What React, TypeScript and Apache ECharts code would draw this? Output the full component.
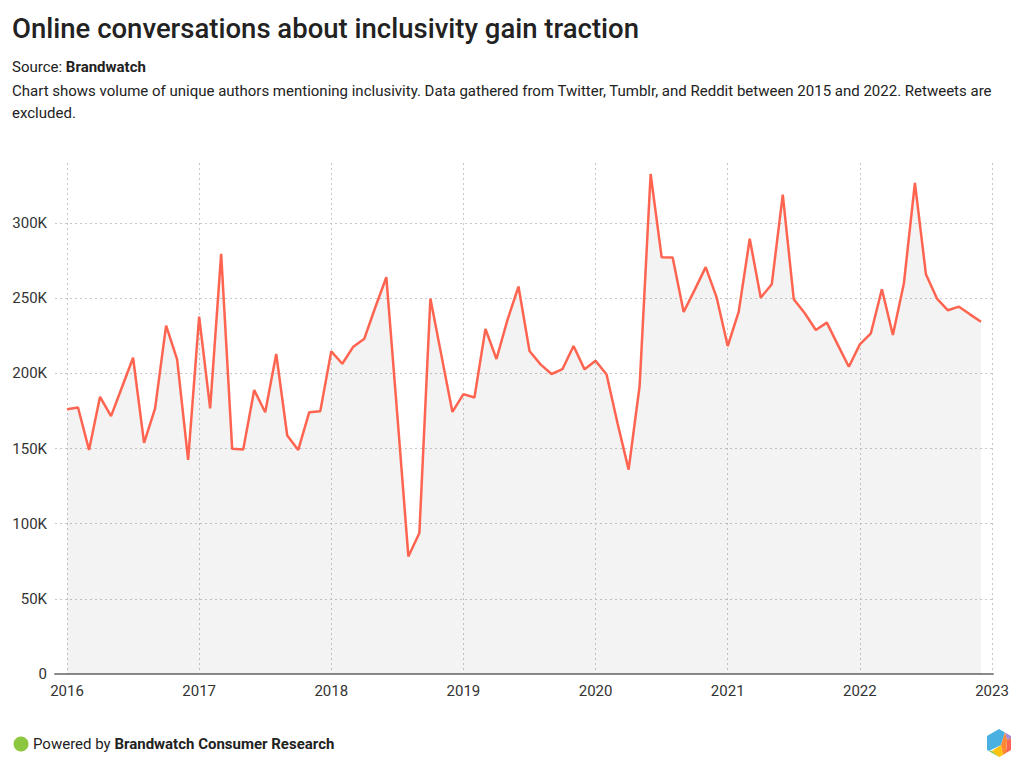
import React, { useEffect, useRef } from "react";
import * as echarts from "echarts";

// Monthly unique authors (thousands), Jan 2016 .. Dec 2022
const startYear = 2016;
const yearLabels = ["2016", "2017", "2018", "2019", "2020", "2021", "2022", "2023"];
const v2016 = [176.2, 177.3, 149.1, 184.4, 171.6, 191, 210.4, 153.8, 176.7, 231.8, 209.3, 142.4];
const v2017 = [237.8, 176.7, 279.6, 149.8, 149.3, 188.9, 174.2, 212.9, 158.7, 149.1, 174.2, 174.9];
const v2018 = [214.7, 206.4, 217.8, 223.1, 244, 264.0, 172, 78.2, 93.8, 249.8, 212, 174.4];
const v2019 = [186.2, 184, 229.6, 209.6, 235.6, 257.8, 214.9, 206, 199.6, 202.9, 218.2, 202.7];
const v2020 = [208.4, 199.3, 166.7, 136, 191.6, 332.7, 277.3, 277.1, 240.9, 255.6, 270.7, 250.4];
const v2021 = [218.2, 241.1, 289.6, 250.4, 259.3, 318.9, 249.3, 240, 228.9, 233.8, 219, 204.4];
const v2022 = [219.3, 226.7, 256, 225.6, 260, 326.7, 266, 249.8, 242, 244.4, 239.3, 234.4];
const values = [...v2016, ...v2017, ...v2018, ...v2019, ...v2020, ...v2021, ...v2022];
const yTicks = [0, 50000, 100000, 150000, 200000, 250000, 300000];

const FONT = "Roboto, 'Noto Sans', sans-serif";

export default function App() {
  const ref = useRef<HTMLDivElement>(null);
  useEffect(() => {
    if (!ref.current) return;
    const chart = echarts.init(ref.current, undefined, { renderer: "svg" });
    const data = values.map((v, i) => [i, Math.round(v * 1000)]);
    const yMax = 340000;
    chart.setOption({
      animation: false,
      textStyle: { fontFamily: FONT },
      grid: [
        { left: 67, right: 32, top: 163, bottom: 100 },
        { left: 55, right: 31, top: 163, bottom: 100 },
      ],
      xAxis: [
        {
          type: "value",
          gridIndex: 0,
          min: 0,
          max: 84,
          interval: 12,
          axisLine: { show: false },
          axisTick: { show: false },
          axisLabel: {
            color: "#333",
            fontSize: 15,
            fontFamily: FONT,
            margin: 9,
            formatter: (v: number) => yearLabels[Math.round(v / 12)] ?? String(startYear + v / 12),
          },
          splitLine: { show: true, lineStyle: { color: "#c8c8c8", type: [2, 3], width: 1 } },
        },
        {
          type: "value",
          gridIndex: 1,
          min: 0,
          max: 1,
          axisLine: { show: true, lineStyle: { color: "#8a8a8a", width: 2 } },
          axisTick: { show: false },
          axisLabel: { show: false },
          splitLine: { show: false },
        },
      ],
      yAxis: [
        {
          type: "value",
          gridIndex: 0,
          min: 0,
          max: yMax,
          show: false,
          splitLine: { show: false },
        },
        {
          type: "value",
          gridIndex: 1,
          min: 0,
          max: yMax,
          interval: 50000,
          axisLine: { show: false },
          axisTick: { show: false },
          axisLabel: {
            color: "#333",
            fontSize: 15,
            fontFamily: FONT,
            margin: 8,
            showMaxLabel: false,
            formatter: (v: number) => (yTicks.includes(v) ? (v === 0 ? "0" : v / 1000 + "K") : ""),
          },
          splitLine: {
            show: true,
            showMaxLine: false,
            lineStyle: { color: "#c8c8c8", type: [2, 3], width: 1 },
          },
        },
      ],
      series: [
        {
          type: "line",
          xAxisIndex: 0,
          yAxisIndex: 0,
          data,
          symbol: "none",
          lineStyle: { color: "#ff6450", width: 2.5 },
          itemStyle: { color: "#ff6450" },
          areaStyle: { color: "rgba(0,0,0,0.065)" },
          z: 3,
        },
      ],
      graphic: [
        {
          type: "text",
          left: 12,
          top: 14,
          style: {
            text: "Online conversations about inclusivity gain traction",
            fontSize: 27.5,
            fontWeight: 500,
            fill: "#222",
            fontFamily: FONT,
          },
        },
        {
          type: "text",
          left: 12,
          top: 59.5,
          style: {
            text: "{n|Source: }{b|Brandwatch}",
            fontFamily: FONT,
            rich: {
              n: { fontSize: 15, fill: "#222", fontFamily: FONT },
              b: { fontSize: 15, fill: "#222", fontWeight: "bold", fontFamily: FONT },
            },
          },
        },
        {
          type: "text",
          left: 12,
          top: 80,
          style: {
            text:
              "Chart shows volume of unique authors mentioning inclusivity. Data gathered from Twitter, Tumblr, and Reddit between 2015 and 2022. Retweets are\nexcluded.",
            fontSize: 15,
            lineHeight: 22,
            fill: "#222",
            fontFamily: FONT,
          },
        },
        {
          type: "circle",
          shape: { cx: 21, cy: 744, r: 7.5 },
          style: { fill: "#8dc63f" },
        },
        {
          type: "text",
          left: 33,
          top: 736.5,
          style: {
            text: "{n|Powered by }{b|Brandwatch Consumer Research}",
            fontFamily: FONT,
            rich: {
              n: { fontSize: 15, fill: "#222", fontFamily: FONT },
              b: { fontSize: 15, fill: "#222", fontWeight: "bold", fontFamily: FONT },
            },
          },
        },
        {
          type: "group",
          children: [
            { type: "polygon", shape: { points: [[987, 736], [999, 729], [1005, 732.5], [1001, 745], [989, 751], [987, 750]] }, style: { fill: "#4ab0e2" } },
            { type: "polygon", shape: { points: [[1005, 732.5], [1011, 736], [1011, 738.5], [1007, 740]] }, style: { fill: "#a98bd3" } },
            { type: "polygon", shape: { points: [[1007, 740], [1011, 738.5], [1011, 750], [1006, 753]] }, style: { fill: "#ff6450" } },
            { type: "polygon", shape: { points: [[1001, 745], [1005, 732.5], [1007, 740], [1006, 753], [1003, 755]] }, style: { fill: "#ff8a33" } },
            { type: "polygon", shape: { points: [[992, 751], [1001, 745], [1003, 755], [999, 757]] }, style: { fill: "#ffc20e" } },
            { type: "polygon", shape: { points: [[987, 750], [989, 751], [992, 751], [999, 757], [993, 753.5]] }, style: { fill: "#8dc63f" } },
          ],
        },
      ],
    });
    return () => chart.dispose();
  }, []);
  return (
    <div
      ref={ref}
      style={{ position: "fixed", left: 0, top: 0, width: 1024, height: 774, background: "#fff" }}
    />
  );
}
